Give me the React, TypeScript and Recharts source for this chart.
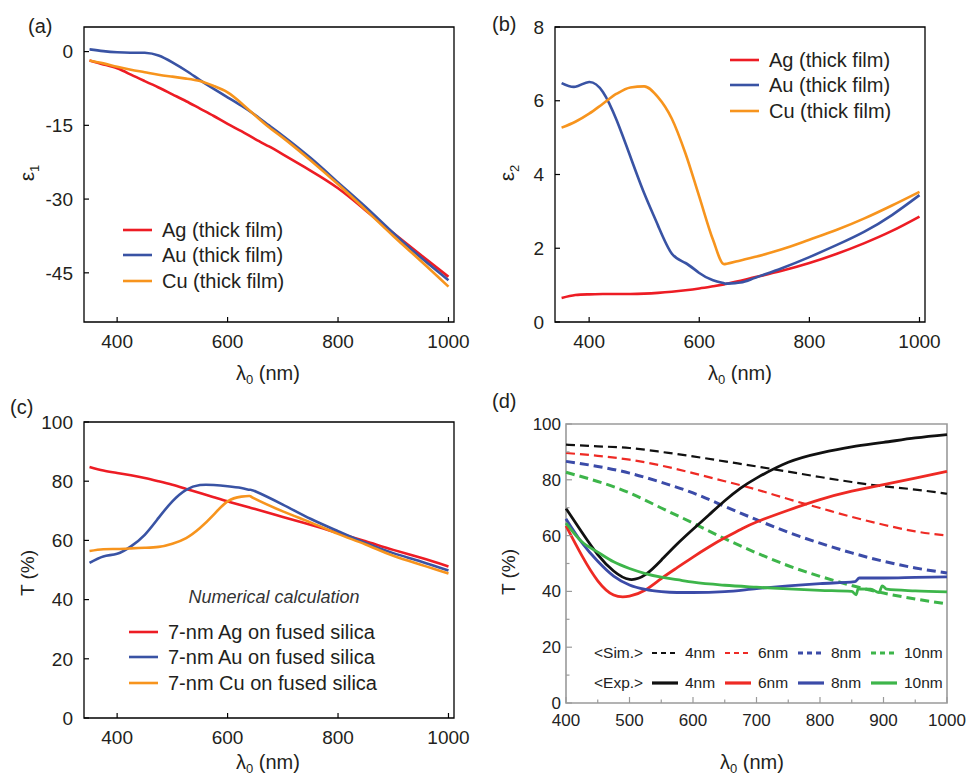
import { LineChart, Line, XAxis, YAxis, ReferenceArea, Legend } from "recharts"

const FONT = "'Liberation Sans', Arial, Helvetica, sans-serif"
const INK = "#231f20"

const RED = "#ed1c24"
const BLUE = "#3953a4"
const ORANGE = "#f7941d"

const D_BLACK = "#111111"
const D_RED = "#ee2a24"
const D_BLUE = "#3b4ba8"
const D_GREEN = "#3db54a"
const D_FRAME = "#9a9a9a"

// (a) real part of permittivity, thick films
const lamA = [350, 375, 400, 425, 450, 475, 500, 525, 550, 575, 600, 625, 650, 675, 700, 750, 800, 850, 900, 950, 1000]
const agE1 = [-1.8, -2.6, -3.4, -4.7, -6.0, -7.3, -8.7, -10.1, -11.6, -13.1, -14.7, -16.2, -17.8, -19.3, -20.9, -24.2, -27.8, -32.3, -36.9, -41.4, -45.8]
const auE1 = [0.45, 0.1, -0.15, -0.25, -0.25, -0.8, -2.2, -3.9, -5.8, -7.6, -9.3, -11.0, -12.9, -15.0, -17.1, -21.6, -26.6, -31.6, -36.9, -41.9, -46.5]
const cuE1 = [-1.8, -2.4, -3.1, -3.7, -4.2, -4.7, -5.1, -5.5, -6.0, -7.0, -8.3, -10.5, -13.0, -15.4, -17.5, -22.1, -27.0, -32.2, -37.5, -42.6, -47.8]

// (b) imaginary part of permittivity, thick films
const lamB = [350, 375, 400, 425, 450, 475, 500, 525, 550, 575, 600, 625, 645, 650, 675, 700, 750, 800, 850, 900, 950, 1000]
const agE2 = [0.65, 0.73, 0.75, 0.76, 0.76, 0.76, 0.77, 0.79, 0.82, 0.86, 0.91, 0.97, 1.02, 1.04, 1.12, 1.21, 1.39, 1.6, 1.85, 2.14, 2.47, 2.86]
const auE2 = [6.48, 6.38, 6.51, 6.24, 5.47, 4.48, 3.49, 2.62, 1.86, 1.6, 1.33, 1.13, 1.05, 1.04, 1.07, 1.19, 1.46, 1.76, 2.09, 2.45, 2.9, 3.44]
const cuE2 = [5.27, 5.43, 5.65, 5.92, 6.19, 6.36, 6.39, 6.1, 5.52, 4.57, 3.4, 2.23, 1.57, 1.58, 1.67, 1.76, 1.97, 2.23, 2.5, 2.81, 3.16, 3.53]

// (c) calculated transmission of 7-nm films
const lamC = [350, 375, 400, 425, 450, 475, 500, 525, 550, 575, 600, 625, 640, 650, 700, 750, 800, 850, 900, 950, 1000]
const agT = [84.8, 83.6, 82.8, 82.0, 81.1, 80.0, 78.8, 77.4, 76.0, 74.6, 73.2, 71.9, 71.1, 70.6, 67.9, 65.3, 62.5, 59.7, 56.8, 54.1, 51.2]
const auT = [52.4, 54.6, 55.5, 58.0, 61.9, 67.6, 73.2, 77.1, 78.7, 78.7, 78.3, 77.7, 77.1, 76.6, 72.1, 67.3, 63.1, 59.1, 55.7, 52.9, 49.8]
const cuT = [56.4, 57.0, 57.1, 57.3, 57.5, 57.8, 58.9, 60.8, 64.2, 68.7, 73.2, 74.8, 75.0, 74.0, 69.8, 66.1, 62.2, 58.6, 54.8, 51.8, 48.8]

// (d) simulated vs measured transmission
const lamSim = [400, 450, 500, 550, 600, 650, 700, 750, 800, 850, 900, 950, 1000]
const sim4 = [92.6, 92.0, 91.4, 90.0, 88.4, 86.6, 84.8, 82.9, 81.0, 79.2, 77.7, 76.5, 75.0]
const sim6 = [89.6, 88.6, 87.2, 85.1, 82.4, 79.5, 76.5, 73.1, 69.9, 66.7, 63.9, 61.5, 60.0]
const sim8 = [86.6, 84.8, 82.4, 79.1, 75.3, 70.5, 65.7, 61.2, 57.3, 53.8, 50.8, 48.4, 46.6]
const sim10 = [82.7, 79.4, 75.3, 69.9, 64.5, 58.9, 53.8, 49.2, 45.4, 42.1, 39.4, 37.3, 35.5]

const lamExp = [400, 425, 450, 475, 500, 525, 550, 575, 600, 625, 650, 675, 700, 750, 800, 850, 900, 950, 1000]
const exp4 = [69.7, 61.2, 53.2, 47.3, 44.3, 46.0, 51.2, 57.0, 62.3, 67.4, 72.5, 77.0, 80.6, 86.3, 89.6, 91.8, 93.4, 95.0, 96.2]
const exp6 = [63.5, 52.8, 43.8, 38.7, 38.3, 40.5, 44.6, 48.5, 52.3, 55.9, 59.2, 62.2, 64.9, 69.1, 72.9, 75.9, 78.3, 80.6, 83.0]
const lamExp8 = [400, 425, 450, 475, 500, 525, 550, 575, 600, 650, 700, 750, 800, 855, 862, 900, 950, 1000]
const exp8 = [66.0, 57.5, 50.8, 45.5, 42.3, 40.7, 39.9, 39.6, 39.6, 39.9, 41.0, 42.0, 42.8, 43.5, 44.8, 44.8, 45.0, 45.2]
const lamExp10 = [400, 425, 450, 475, 500, 525, 550, 575, 600, 650, 700, 750, 800, 850, 857, 860, 880, 893, 898, 905, 950, 1000]
const exp10 = [64.5, 57.8, 54.1, 50.6, 48.2, 46.4, 45.1, 44.2, 43.3, 42.2, 41.5, 40.9, 40.4, 40.0, 38.8, 40.9, 40.8, 39.6, 42.0, 40.8, 40.2, 39.8]

const thickNames = ["Ag (thick film)", "Au (thick film)", "Cu (thick film)"]
const thinNames = ["7-nm Ag on fused silica", "7-nm Au on fused silica", "7-nm Cu on fused silica"]
const metalColors = [RED, BLUE, ORANGE]
const sizeNames = ["4nm", "6nm", "8nm", "10nm"]
const sizeColors = [D_BLACK, D_RED, D_BLUE, D_GREEN]

const ticksNm = [400, 600, 800, 1000]
const ticksE1 = [0, -15, -30, -45]
const ticksE2 = [0, 2, 4, 6, 8]
const ticksT = [0, 20, 40, 60, 80, 100]
const ticksDx = [400, 450, 500, 550, 600, 650, 700, 750, 800, 850, 900, 950, 1000]
const ticksDy = [0, 10, 20, 30, 40, 50, 60, 70, 80, 90, 100]

const zip = (xs: number[], ys: number[]) => xs.map((x, i) => ({ x, y: ys[i] }))

type TickOpts = { major: number[]; gap: number; len: number; minor: number; color: string; size: number; text: string }

const xTick = (o: TickOpts) => (p: any) => {
  const v = p.payload.value
  const isMajor = o.major.includes(v)
  const y0 = p.y - o.gap
  return (
    <g>
      <line x1={p.x} x2={p.x} y1={y0} y2={y0 - (isMajor ? o.len : o.minor)} stroke={o.color} strokeWidth={1.2} />
      {isMajor && (
        <text x={p.x} y={p.y} dy="0.71em" textAnchor="middle" fontFamily={FONT} fontSize={o.size} fill={o.text}>
          {v}
        </text>
      )}
    </g>
  )
}

const yTick = (o: TickOpts) => (p: any) => {
  const v = p.payload.value
  const isMajor = o.major.includes(v)
  const x0 = p.x + o.gap
  return (
    <g>
      <line x1={x0} x2={x0 + (isMajor ? o.len : o.minor)} y1={p.y} y2={p.y} stroke={o.color} strokeWidth={1.2} />
      {isMajor && (
        <text x={p.x} y={p.y} dy="0.355em" textAnchor="end" fontFamily={FONT} fontSize={o.size} fill={o.text}>
          {v}
        </text>
      )}
    </g>
  )
}

function MetalLegend({ names, rowH }: { names: string[]; rowH: number }) {
  return (
    <div style={{ fontFamily: FONT, fontSize: 20, color: INK, lineHeight: 1 }}>
      {names.map((n, i) => (
        <div key={n} style={{ display: "flex", alignItems: "center", height: rowH }}>
          <svg width={29} height={6} style={{ marginRight: 10 }}>
            <line x1={0} x2={29} y1={3} y2={3} stroke={metalColors[i]} strokeWidth={2.6} />
          </svg>
          <span style={{ whiteSpace: "nowrap" }}>{n}</span>
        </div>
      ))}
    </div>
  )
}

function SizeLegend() {
  const rows = [
    { label: "<Sim.>", dash: true },
    { label: "<Exp.>", dash: false },
  ]
  return (
    <div style={{ fontFamily: FONT, fontSize: 15.5, color: "#222", lineHeight: 1 }}>
      {rows.map((r) => (
        <div key={r.label} style={{ display: "flex", alignItems: "center", height: 30 }}>
          <span style={{ width: 58, whiteSpace: "nowrap" }}>{r.label}</span>
          {sizeNames.map((s, i) => (
            <div key={s} style={{ display: "flex", alignItems: "center", width: 73 }}>
              <svg width={26} height={6} style={{ marginRight: 7 }}>
                <line
                  x1={0}
                  x2={26}
                  y1={3}
                  y2={3}
                  stroke={sizeColors[i]}
                  strokeWidth={r.dash ? (i < 2 ? 2 : 3) : 3.2}
                  strokeDasharray={r.dash ? "5 4" : undefined}
                />
              </svg>
              <span style={{ whiteSpace: "nowrap" }}>{s}</span>
            </div>
          ))}
        </div>
      ))}
    </div>
  )
}

const abcTicks = { gap: 13, len: 5, minor: 3, color: "#000", size: 19, text: INK }

type Curve = "natural" | "monotone"

function MetalPanel(props: {
  width: number
  height: number
  margin: { top: number; right: number; bottom: number; left: number }
  yWidth: number
  xHeight: number
  xDomain: [number, number]
  yDomain: [number, number]
  yTicks: number[]
  lam: number[]
  series: number[][]
  curves: Curve[]
  names: string[]
  legendPos: { left: number; top: number }
}) {
  const { xDomain, yDomain } = props
  return (
    <LineChart width={props.width} height={props.height} margin={props.margin}>
      <ReferenceArea
        x1={xDomain[0]}
        x2={xDomain[1]}
        y1={yDomain[0]}
        y2={yDomain[1]}
        fill="none"
        stroke="#000"
        strokeWidth={1.3}
        ifOverflow="visible"
      />
      <XAxis
        dataKey="x"
        type="number"
        domain={xDomain}
        ticks={ticksNm}
        interval={0}
        height={props.xHeight}
        axisLine={false}
        tickLine={false}
        tickSize={0}
        tickMargin={abcTicks.gap}
        tick={xTick({ ...abcTicks, major: ticksNm })}
      />
      <YAxis
        type="number"
        domain={yDomain}
        ticks={props.yTicks}
        interval={0}
        width={props.yWidth}
        axisLine={false}
        tickLine={false}
        tickSize={0}
        tickMargin={11}
        tick={yTick({ ...abcTicks, gap: 11, major: props.yTicks })}
      />
      {props.series.map((s, i) => (
        <Line
          key={props.names[i]}
          data={zip(props.lam, s)}
          dataKey="y"
          type={props.curves[i]}
          stroke={metalColors[i]}
          strokeWidth={2.6}
          dot={false}
          isAnimationActive={false}
        />
      ))}
      <Legend
        layout="horizontal"
        verticalAlign="middle"
        align="center"
        wrapperStyle={{ left: props.legendPos.left, top: props.legendPos.top, width: 260 }}
        content={() => <MetalLegend names={props.names} rowH={25.5} />}
      />
    </LineChart>
  )
}

const dTicks = { gap: 5, len: 6, minor: 3.5, color: D_FRAME, size: 17, text: "#222" }

function TransmissionPanel() {
  const xDomain: [number, number] = [400, 1000]
  const yDomain: [number, number] = [0, 100]
  const sims = [sim4, sim6, sim8, sim10]
  const exps = [
    zip(lamExp, exp4),
    zip(lamExp, exp6),
    zip(lamExp8, exp8),
    zip(lamExp10, exp10),
  ]
  const expCurves: Curve[] = ["natural", "natural", "monotone", "monotone"]
  return (
    <LineChart width={485} height={386} margin={{ top: 34, right: 23, bottom: 0, left: 0 }}>
      <ReferenceArea
        x1={xDomain[0]}
        x2={xDomain[1]}
        y1={yDomain[0]}
        y2={yDomain[1]}
        fill="none"
        stroke={D_FRAME}
        strokeWidth={1.6}
        ifOverflow="visible"
      />
      <XAxis
        dataKey="x"
        type="number"
        domain={xDomain}
        ticks={ticksDx}
        interval={0}
        height={73}
        axisLine={false}
        tickLine={false}
        tickSize={0}
        tickMargin={11}
        tick={xTick({ ...dTicks, gap: 11, major: [400, 500, 600, 700, 800, 900, 1000] })}
      />
      <YAxis
        type="number"
        domain={yDomain}
        ticks={ticksDy}
        interval={0}
        width={81}
        axisLine={false}
        tickLine={false}
        tickSize={0}
        tickMargin={5}
        tick={yTick({ ...dTicks, major: ticksT })}
      />
      {sims.map((s, i) => (
        <Line
          key={"sim" + sizeNames[i]}
          data={zip(lamSim, s)}
          dataKey="y"
          type="natural"
          stroke={sizeColors[i]}
          strokeWidth={i < 2 ? 2.2 : 3}
          strokeDasharray="9 5"
          dot={false}
          isAnimationActive={false}
        />
      ))}
      {exps.map((d, i) => (
        <Line
          key={"exp" + sizeNames[i]}
          data={d}
          dataKey="y"
          type={expCurves[i]}
          stroke={sizeColors[i]}
          strokeWidth={2.8}
          dot={false}
          isAnimationActive={false}
        />
      ))}
      <Legend
        layout="horizontal"
        verticalAlign="middle"
        align="center"
        wrapperStyle={{ left: 109, top: 248, width: 360 }}
        content={() => <SizeLegend />}
      />
    </LineChart>
  )
}

function AxisTitleNm({ x, y }: { x: number; y: number }) {
  return (
    <text x={x} y={y} fontSize={20} textAnchor="middle">
      λ<tspan dy={4} fontSize={13}>0</tspan>
      <tspan dy={-4}> (nm)</tspan>
    </text>
  )
}

function Titles() {
  return (
    <svg
      width={970}
      height={776}
      style={{ position: "absolute", left: 0, top: 0, pointerEvents: "none" }}
      fontFamily={FONT}
      fill={INK}
    >
      <text x={28} y={33} fontSize={20}>(a)</text>
      <text x={492} y={31} fontSize={20}>(b)</text>
      <text x={10} y={414} fontSize={20}>(c)</text>
      <text x={492} y={408} fontSize={20}>(d)</text>

      <AxisTitleNm x={268} y={380} />
      <AxisTitleNm x={740} y={380} />
      <AxisTitleNm x={268} y={769} />
      <AxisTitleNm x={752} y={769} />

      <text transform="translate(34,173) rotate(-90)" fontSize={21} textAnchor="middle">
        ε<tspan dy={5} fontSize={13}>1</tspan>
      </text>
      <text transform="translate(514,173) rotate(-90)" fontSize={21} textAnchor="middle">
        ε<tspan dy={5} fontSize={13}>2</tspan>
      </text>
      <text transform="translate(34,573) rotate(-90)" fontSize={19} textAnchor="middle">
        T (%)
      </text>
      <text transform="translate(515,572) rotate(-90)" fontSize={19} textAnchor="middle" fill="#222">
        T (%)
      </text>

      <text x={274} y={603} fontSize={18} fontStyle="italic" textAnchor="middle" fill="#333">
        Numerical calculation
      </text>
    </svg>
  )
}

export default function App() {
  return (
    <div
      style={{
        position: "absolute",
        left: 0,
        top: 0,
        width: 970,
        height: 776,
        background: "#fff",
        overflow: "hidden",
      }}
    >
      <div style={{ position: "absolute", left: 0, top: 0 }}>
        <MetalPanel
          width={485}
          height={390}
          margin={{ top: 27, right: 31, bottom: 0, left: 0 }}
          yWidth={84}
          xHeight={68}
          xDomain={[340, 1010]}
          yDomain={[-55, 5]}
          yTicks={ticksE1}
          lam={lamA}
          series={[agE1, auE1, cuE1]}
          curves={["natural", "natural", "natural"]}
          names={thickNames}
          legendPos={{ left: 123, top: 217 }}
        />
      </div>
      <div style={{ position: "absolute", left: 485, top: 0 }}>
        <MetalPanel
          width={485}
          height={390}
          margin={{ top: 27, right: 45, bottom: 0, left: 0 }}
          yWidth={70}
          xHeight={68}
          xDomain={[338, 1010]}
          yDomain={[0, 8]}
          yTicks={ticksE2}
          lam={lamB}
          series={[agE2, auE2, cuE2]}
          curves={["natural", "natural", "monotone"]}
          names={thickNames}
          legendPos={{ left: 245, top: 47 }}
        />
      </div>
      <div style={{ position: "absolute", left: 0, top: 390 }}>
        <MetalPanel
          width={485}
          height={386}
          margin={{ top: 32, right: 31, bottom: 0, left: 0 }}
          yWidth={84}
          xHeight={58}
          xDomain={[340, 1010]}
          yDomain={[0, 100]}
          yTicks={ticksT}
          lam={lamC}
          series={[agT, auT, cuT]}
          curves={["natural", "natural", "natural"]}
          names={thinNames}
          legendPos={{ left: 129, top: 229 }}
        />
      </div>
      <div style={{ position: "absolute", left: 485, top: 390 }}>
        <TransmissionPanel />
      </div>
      <Titles />
    </div>
  )
}
